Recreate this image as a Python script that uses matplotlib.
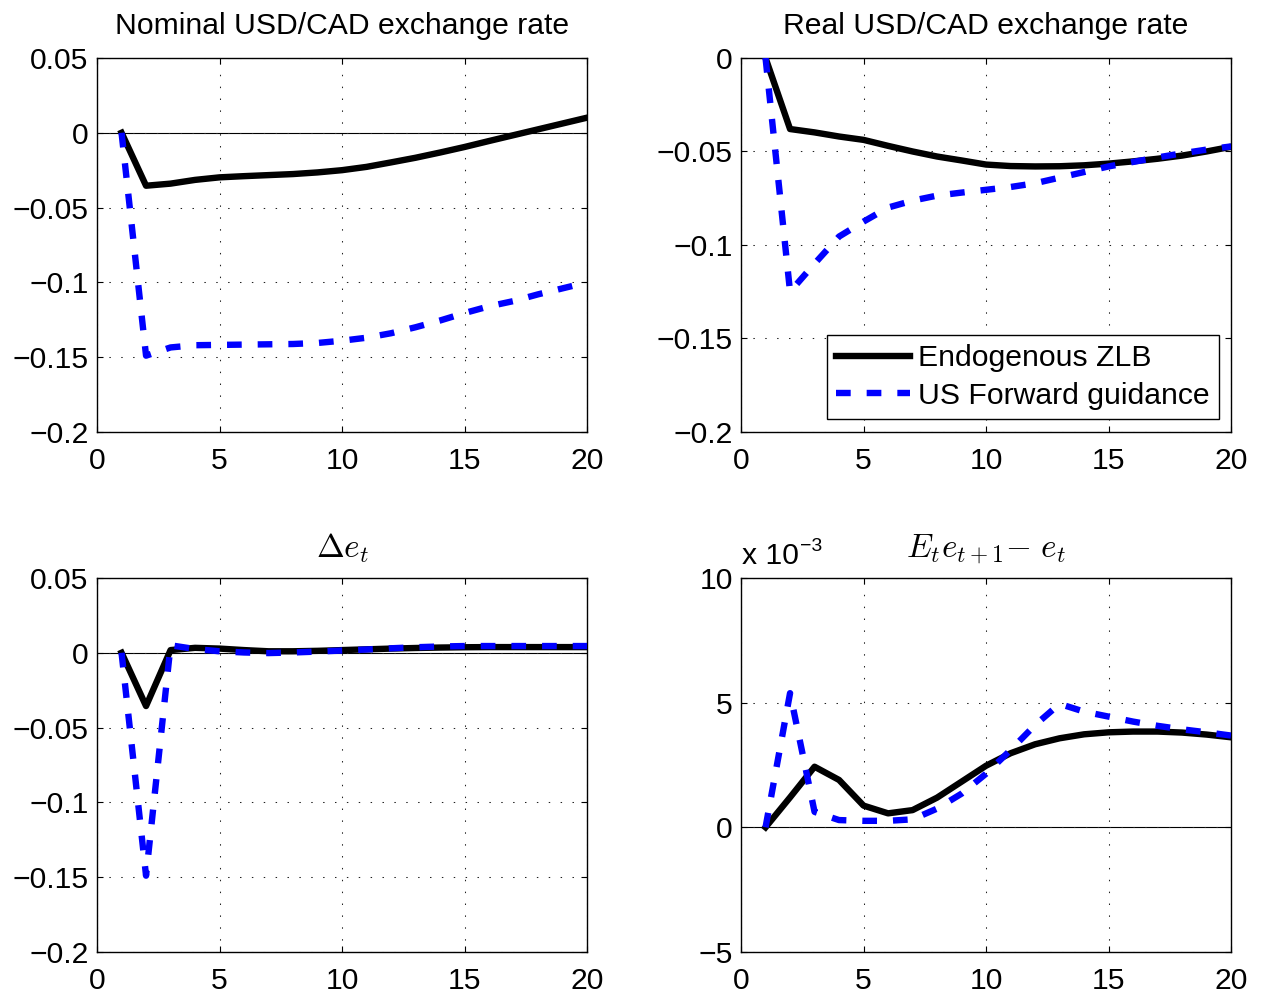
import matplotlib.pyplot as plt
from matplotlib.ticker import FuncFormatter

plt.rcParams['font.family'] = ['Liberation Sans', 'DejaVu Sans']
plt.rcParams['mathtext.fontset'] = 'cm'

t = list(range(1, 21))

# nominal exchange rate
nom_zlb = [0, -0.0354, -0.0340, -0.0315, -0.0298, -0.0290, -0.0283, -0.0276, -0.0265, -0.0250,
           -0.0228, -0.0198, -0.0167, -0.0132, -0.0095, -0.0055, -0.0016, 0.0023, 0.0062, 0.0101]
nom_fg = [0, -0.149, -0.1435, -0.1420, -0.1418, -0.1416, -0.1414, -0.1412, -0.1405, -0.1390,
          -0.1370, -0.1340, -0.1300, -0.1255, -0.1205, -0.1160, -0.1125, -0.1080, -0.1040, -0.1000]

# real exchange rate
real_zlb = [0, -0.0380, -0.0398, -0.0420, -0.0438, -0.0470, -0.0500, -0.0527, -0.0548, -0.0570,
            -0.0578, -0.0580, -0.0579, -0.0574, -0.0565, -0.0553, -0.0539, -0.0522, -0.0500, -0.0475]
real_fg = [0, -0.125, -0.110, -0.0955, -0.0875, -0.0800, -0.0763, -0.0736, -0.0720, -0.0705,
           -0.0690, -0.0670, -0.0640, -0.0610, -0.0580, -0.0556, -0.0532, -0.0510, -0.0490, -0.0473]

# depreciation
de_zlb = [0, -0.0356, 0.0018, 0.0033, 0.0028, 0.0018, 0.0010, 0.0010, 0.0013, 0.0018,
          0.0023, 0.0028, 0.0032, 0.0035, 0.0037, 0.0038, 0.0038, 0.0038, 0.0038, 0.0038]
de_fg = [0, -0.149, 0.0050, 0.0025, 0.0010, 0.0002, -0.0002, 0.0002, 0.0008, 0.0015,
         0.0022, 0.0030, 0.0037, 0.0042, 0.0045, 0.0045, 0.0045, 0.0045, 0.0045, 0.0045]

# expected depreciation, in units of 1e-3
ede_zlb = [0, 1.20, 2.43, 1.90, 0.87, 0.56, 0.69, 1.19, 1.83, 2.47,
           2.97, 3.33, 3.57, 3.73, 3.81, 3.84, 3.84, 3.80, 3.72, 3.61]
ede_fg = [0, 5.38, 0.62, 0.29, 0.26, 0.26, 0.32, 0.75, 1.35, 2.15,
          3.10, 4.10, 4.95, 4.64, 4.44, 4.24, 4.07, 3.93, 3.81, 3.68]

FS = 21.7
fig = plt.figure(figsize=(12.62, 9.96), dpi=100)

W, H = 0.3883, 0.3755
boxes = [(0.0769, 0.5663), (0.5872, 0.5663), (0.0769, 0.0442), (0.5872, 0.0442)]
panels = [
    ('Nominal USD/CAD exchange rate', nom_zlb, nom_fg, (-0.2, 0.05), [-0.2, -0.15, -0.1, -0.05, 0, 0.05], True),
    ('Real USD/CAD exchange rate', real_zlb, real_fg, (-0.2, 0), [-0.2, -0.15, -0.1, -0.05, 0], False),
    (r'$\Delta e_t$', de_zlb, de_fg, (-0.2, 0.05), [-0.2, -0.15, -0.1, -0.05, 0, 0.05], True),
    (r'$E_te_{t+1}{-}\ e_t$', ede_zlb, ede_fg, (-5, 10), [-5, 0, 5, 10], True),
]

fmt = FuncFormatter(lambda v, p: ('%g' % v).replace('-', '\u2212'))

for (x0, y0), (title, zlb, fg, ylim, yt, zero) in zip(boxes, panels):
    ax = fig.add_axes([x0, y0, W, H])
    if zero:
        ax.axhline(0, color='k', lw=0.8, zorder=1)
    ax.plot(t, zlb, color='k', lw=4.6, label='Endogenous ZLB', zorder=3)
    ax.plot(t, fg, color='#0000ff', lw=4.6, dashes=(2.3, 2.5), dash_capstyle='butt',
            label='US Forward guidance', zorder=4)
    ax.set_xlim(0, 20)
    ax.set_ylim(*ylim)
    ax.set_xticks([0, 5, 10, 15, 20])
    ax.set_yticks(yt)
    ax.yaxis.set_major_formatter(fmt)
    ax.grid(True, color='#222222', lw=0.75, linestyle=(0, (1.4, 10)))
    ax.tick_params(direction='in', top=True, right=True, length=4, width=0.8,
                   labelsize=FS, colors='k')
    ax.tick_params(axis='x', pad=11)
    ax.tick_params(axis='y', pad=6)
    for s in ax.spines.values():
        s.set_linewidth(1.0)
    if title.startswith('$'):
        ax.set_title(title, fontsize=24, pad=15)
    else:
        ax.set_title(title, fontsize=FS, pad=17)
    if title.startswith('Real'):
        leg = ax.legend(loc='lower right', bbox_to_anchor=(0.9755, 0.035), borderaxespad=0,
                        fontsize=FS, handlelength=2.45, handletextpad=0.28,
                        labelspacing=0.32, borderpad=0.3, fancybox=False,
                        edgecolor='k', framealpha=1)
        leg.get_frame().set_linewidth(1.0)
    if ylim == (-5, 10):
        ax.text(0.002, 1.037, 'x 10', transform=ax.transAxes, fontsize=FS, va='baseline')
        ax.text(0.12, 1.072, '\u22123', transform=ax.transAxes, fontsize=14, va='baseline')

fig.savefig('out.png', dpi=100)
